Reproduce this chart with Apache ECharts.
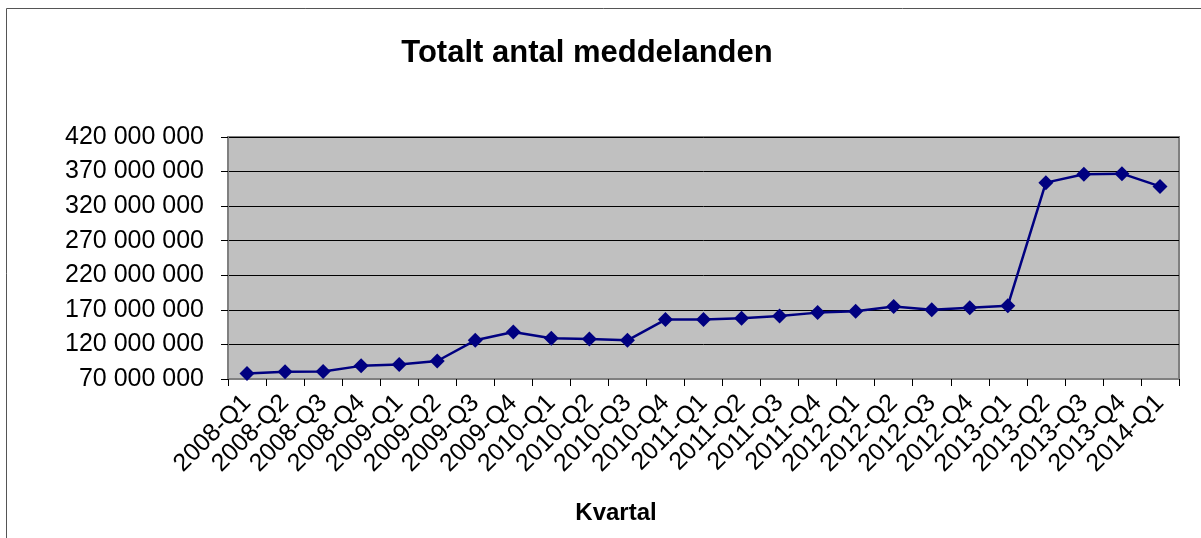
<!DOCTYPE html>
<html>
<head>
<meta charset="utf-8">
<script src="https://cdn.jsdelivr.net/npm/echarts@6/dist/echarts.min.js"></script>
<style>
html,body{margin:0;padding:0;background:#fff;}
#chart{width:1201px;height:538px;}
</style>
</head>
<body>
<div id="chart"></div>
<script>
const titleText = 'Totalt antal meddelanden';
const xAxisTitle = 'Kvartal';
const categories = ['2008-Q1','2008-Q2','2008-Q3','2008-Q4','2009-Q1','2009-Q2','2009-Q3','2009-Q4',
  '2010-Q1','2010-Q2','2010-Q3','2010-Q4','2011-Q1','2011-Q2','2011-Q3','2011-Q4',
  '2012-Q1','2012-Q2','2012-Q3','2012-Q4','2013-Q1','2013-Q2','2013-Q3','2013-Q4','2014-Q1'];
const values = [78000000, 80500000, 81000000, 89000000, 91000000, 96000000, 126000000, 138000000,
  129000000, 128000000, 126000000, 156000000, 156000000, 158000000, 161000000, 166000000,
  168000000, 175000000, 170000000, 173000000, 176000000, 354000000, 366000000, 367000000, 348500000];
const yMin = 70000000, yMax = 420000000, yStep = 50000000;

function fmt(v){
  return String(Math.round(v)).replace(/\B(?=(\d{3})+(?!\d))/g, ' ');
}

const chart = echarts.init(document.getElementById('chart'));
chart.setOption({
  animation: false,
  backgroundColor: '#ffffff',
  title: [{
    text: titleText,
    left: 582, top: 33, textAlign: 'center',
    textStyle: {fontFamily: 'Liberation Sans, Arial', fontWeight: 'bold', fontSize: 31, color: '#000'}
  }, {
    text: xAxisTitle,
    left: 611, top: 496, textAlign: 'center',
    textStyle: {fontFamily: 'Liberation Sans, Arial', fontWeight: 'bold', fontSize: 24, color: '#000'}
  }],
  graphic: [
    {type: 'polyline', shape: {points: [[6.5, 540], [6.5, 8.5], [1201, 8.5]]},
     style: {stroke: '#555', lineWidth: 1, fill: null}, silent: true}
  ],
  grid: {
    left: 228, right: 22, top: 137, bottom: 159,
    show: true, backgroundColor: '#C0C0C0', borderColor: '#808080', borderWidth: 2,
    containLabel: false
  },
  xAxis: {
    type: 'category',
    data: categories,
    boundaryGap: true,
    axisLine: {show: true, lineStyle: {color: '#808080', width: 2}},
    axisTick: {show: true, interval: 0, length: 7, lineStyle: {color: '#000', width: 1}},
    axisLabel: {interval: 0, rotate: 45, margin: 20, fontFamily: 'Liberation Sans, Arial', fontSize: 25, color: '#000'},
    splitLine: {show: false}
  },
  yAxis: {
    type: 'value',
    min: yMin, max: yMax, interval: yStep,
    axisLine: {show: true, lineStyle: {color: '#808080', width: 2}},
    axisTick: {show: true, length: 7, lineStyle: {color: '#000', width: 1}},
    axisLabel: {margin: 24, fontFamily: 'Liberation Sans, Arial', fontSize: 25, color: '#000', formatter: fmt},
    splitLine: {show: true, lineStyle: {color: '#000', width: 1}}
  },
  series: [{
    type: 'line',
    data: values,
    color: '#000080',
    lineStyle: {color: '#000080', width: 2.5},
    itemStyle: {color: '#000080'},
    symbol: 'diamond',
    symbolSize: 15,
    showSymbol: true
  }]
});
</script>
</body>
</html>
